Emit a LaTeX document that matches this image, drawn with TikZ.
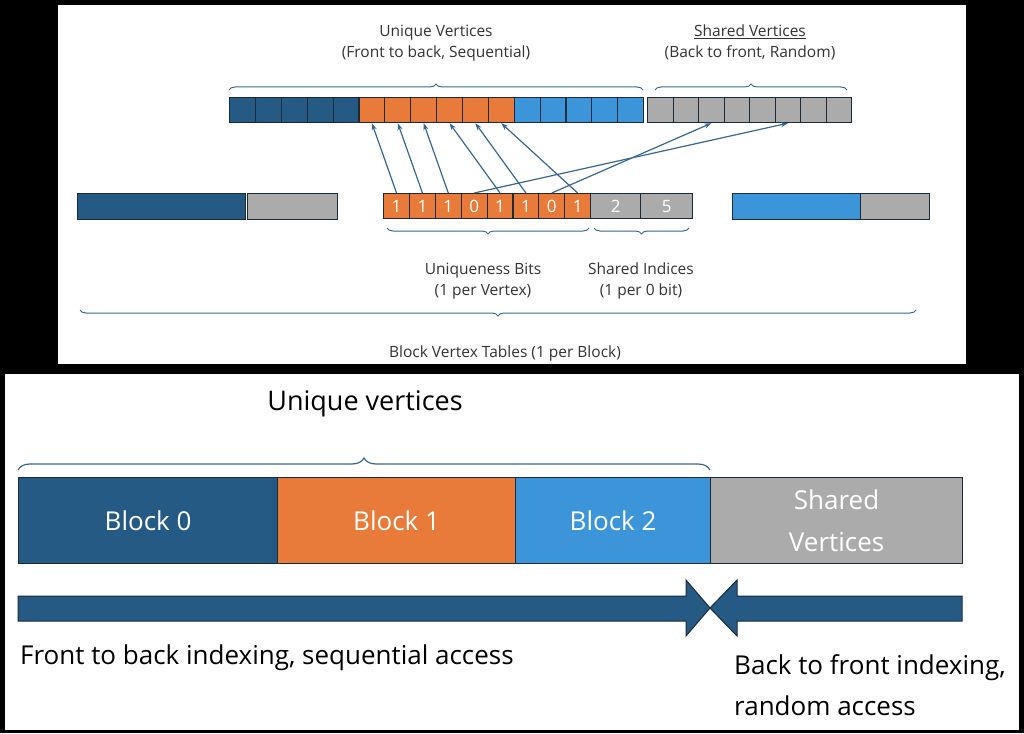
\documentclass[tikz,border=0pt]{standalone}
\usepackage{fontspec}
\setmainfont{Open Sans}
\usetikzlibrary{decorations.pathreplacing,shapes.arrows,arrows.meta}
\definecolor{dblue}{HTML}{255A84}
\definecolor{orng}{HTML}{E87A3A}
\definecolor{lblue}{HTML}{3C95D8}
\definecolor{gry}{HTML}{ABABAB}
\definecolor{edge}{HTML}{1C2B3A}
\definecolor{brc}{HTML}{3A6690}
\begin{document}
\begin{tikzpicture}[x=1pt,y=-1pt,
  cell/.style={draw=edge,line width=1.2pt},
  br/.style={draw=brc,line width=1pt,decorate,decoration={brace,amplitude=6pt}},
  lab/.style={font=\fontsize{15.5}{21}\selectfont,text=black!80,align=center},
  big/.style={font=\fontsize{26}{30}\selectfont,text=white,align=center},
  tb/.style={font=\fontsize{26}{41}\selectfont,anchor=west,align=left},
  conn/.style={draw=brc,line width=1.2pt,-{Stealth[length=7pt,width=5pt]}},
  bit/.style={font=\fontsize{17}{18}\selectfont,text=white}]
\fill[black] (0,0) rectangle (1024,733);
\fill[white] (58,5) rectangle (966,364);
\fill[white] (5,374) rectangle (1019,730);
% top strip
\foreach \i in {0,...,15}{
  \pgfmathsetmacro{\xa}{229+\i*25.875}
  \ifnum\i<5 \def\c{dblue}\else\ifnum\i<11 \def\c{orng}\else\def\c{lblue}\fi\fi
  \node[cell,fill=\c,minimum width=25.875pt,minimum height=25pt,inner sep=0pt,anchor=north west] (u\i) at (\xa,97) {};
}
\foreach \i in {0,...,7}{
  \pgfmathsetmacro{\xa}{647+\i*25.5}
  \node[cell,fill=gry,minimum width=25.5pt,minimum height=25pt,inner sep=0pt,anchor=north west] (s\i) at (\xa,97) {};
}
% bits
\foreach \b [count=\i from 0] in {1,1,1,0,1,1,0,1}{
  \pgfmathsetmacro{\xa}{383+\i*25.875}
  \node[cell,fill=orng,minimum width=25.875pt,minimum height=25pt,inner sep=0pt,anchor=north west,bit] (b\i) at (\xa,193) {\b};
}
\node[cell,fill=gry,minimum width=50pt,minimum height=25pt,inner sep=0pt,anchor=north west,bit] (i0) at (590,193) {2};
\node[cell,fill=gry,minimum width=52pt,minimum height=25pt,inner sep=0pt,anchor=north west,bit] (i1) at (640,193) {5};
% side tables
\node[cell,fill=dblue,minimum width=168pt,minimum height=26pt,inner sep=0pt,anchor=north west] (l0) at (77,193) {};
\node[cell,fill=gry,minimum width=90pt,minimum height=26pt,inner sep=0pt,anchor=north west] (l1) at (247,193) {};
\node[cell,fill=lblue,minimum width=128pt,minimum height=26pt,inner sep=0pt,anchor=north west] (r0) at (732,193) {};
\node[cell,fill=gry,minimum width=69pt,minimum height=26pt,inner sep=0pt,anchor=north west] (r1) at (860,193) {};
% connectors
\draw[conn] (b0.north) -- (u5.south);
\draw[conn] (b1.north) -- (u6.south);
\draw[conn] (b2.north) -- (u7.south);
\draw[conn] (b4.north) -- (u8.south);
\draw[conn] (b5.north) -- (u9.south);
\draw[conn] (b7.north) -- (u10.south);
\draw[conn] (b3.north) -- (s5.south);
\draw[conn] (b6.north) -- (s2.south);
% braces top
\coordinate (ua) at (229,90); \coordinate (ub) at (643,90);
\draw[br] (ua) -- (ub);
\node[lab] (tu) at (436,43) {Unique Vertices\\(Front to back, Sequential)};
\coordinate (sa) at (655,90); \coordinate (sb) at (847,90);
\draw[br] (sa) -- (sb);
\node[lab] (ts) at (750,42) {\underline{Shared Vertices}\\(Back to front, Random)};
\coordinate (ba) at (589,228); \coordinate (bb) at (387,228);
\draw[br] (ba) -- (bb);
\node[lab] (tb1) at (483,281) {Uniqueness Bits\\(1 per Vertex)};
\coordinate (ia) at (689,228); \coordinate (ib) at (594,228);
\draw[br] (ia) -- (ib);
\node[lab] (tb2) at (641,281) {Shared Indices\\(1 per 0 bit)};
\coordinate (ga) at (916,310); \coordinate (gb) at (80,310);
\draw[br] (ga) -- (gb);
\node[lab] (tg) at (505,353) {Block Vertex Tables (1 per Block)};
% bottom panel
\draw[draw=brc,line width=1.2pt,decorate,decoration={brace,amplitude=12pt}] (18,470) -- (710,470);
\node[font=\fontsize{27}{30}\selectfont] (uv) at (365,404) {Unique vertices};
\node[cell,fill=dblue,minimum width=259pt,minimum height=86pt,inner sep=0pt,anchor=north west,big] (k0) at (18,477) {Block 0};
\node[cell,fill=orng,minimum width=238pt,minimum height=86pt,inner sep=0pt,anchor=north west,big] (k1) at (277,477) {Block 1};
\node[cell,fill=lblue,minimum width=195pt,minimum height=86pt,inner sep=0pt,anchor=north west,big] (k2) at (515,477) {Block 2};
\node[cell,fill=gry,minimum width=252pt,minimum height=86pt,inner sep=0pt,anchor=north west,big,font=\fontsize{26}{42}\selectfont] (k3) at (710,477) {Shared\\Vertices};
\draw[cell,fill=dblue,line width=1pt] (18,596) -- (686,596) -- (686,580) -- (710,608) -- (686,636) -- (686,621) -- (18,621) -- cycle;
\draw[cell,fill=dblue,line width=1pt] (962,596) -- (737,596) -- (737,580) -- (710,608) -- (737,636) -- (737,621) -- (962,621) -- cycle;
\node[tb,inner sep=0pt] (ft) at (20,658) {Front to back indexing, sequential access};
\node[tb,inner sep=0pt] (bt) at (734,685) {Back to front indexing,\\random access};
\end{tikzpicture}
\end{document}
